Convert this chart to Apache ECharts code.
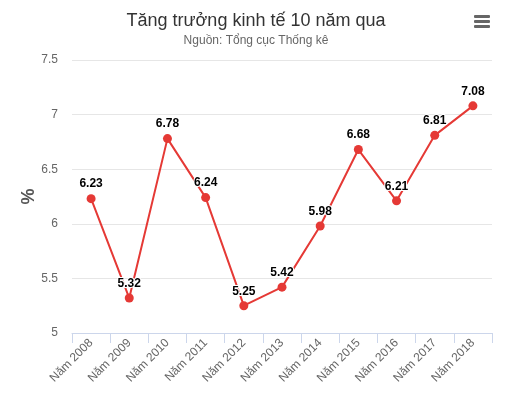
<!DOCTYPE html>
<html><head><meta charset="utf-8">
<script src="https://cdn.jsdelivr.net/npm/echarts@6/dist/echarts.min.js"></script>
<style>html,body{margin:0;padding:0;background:#fff}#c{width:512px;height:393px}</style>
</head><body><div id="c"></div>
<script>
var categories = ['Năm 2008','Năm 2009','Năm 2010','Năm 2011','Năm 2012','Năm 2013','Năm 2014','Năm 2015','Năm 2016','Năm 2017','Năm 2018'];
var growth = [6.23, 5.32, 6.78, 6.24, 5.25, 5.42, 5.98, 6.68, 6.21, 6.81, 7.08];
var titleText = 'Tăng trưởng kinh tế 10 năm qua';
var subtitleText = 'Nguồn: Tổng cục Thống kê';
var chart = echarts.init(document.getElementById('c'));
chart.setOption({
  animation: false,
  title: {
    text: titleText, subtext: subtitleText, left: 'center', top: 7, itemGap: 5,
    textStyle: {fontSize: 18, fontWeight: 'normal', color: '#333', fontFamily: 'Arial'},
    subtextStyle: {fontSize: 12, color: '#666', fontFamily: 'Arial'}
  },
  grid: {left: 72, right: 20, top: 60, bottom: 60, containLabel: false},
  xAxis: {
    type: 'category', data: categories, boundaryGap: true,
    axisLine: {lineStyle: {color: '#ccd6eb'}},
    axisTick: {show: true, length: 10, lineStyle: {color: '#ccd6eb'}, alignWithLabel: false},
    axisLabel: {rotate: 45, color: '#666', fontSize: 12, fontFamily: 'Arial', margin: 8, interval: 0}
  },
  yAxis: {
    type: 'value', min: 5, max: 7.5, interval: 0.5,
    name: '%', nameLocation: 'middle', nameGap: 34, nameRotate: 90, nameMoveOverlap: false,
    nameTextStyle: {fontSize: 18, color: '#555', fontWeight: 'bold', fontFamily: 'Arial'},
    axisLine: {show: false}, axisTick: {show: false},
    splitLine: {lineStyle: {color: '#e6e6e6'}},
    axisLabel: {color: '#666', fontSize: 12, fontFamily: 'Arial', margin: 14}
  },
  series: [{
    type: 'line', data: growth, symbol: 'circle', symbolSize: 9,
    itemStyle: {color: '#e53935'},
    lineStyle: {color: '#e53935', width: 2},
    label: {show: true, position: 'top', distance: 4, color: '#000', fontSize: 12, fontWeight: 'bold',
      fontFamily: 'Arial', textBorderColor: '#fff', textBorderWidth: 2}
  }],
  graphic: [
    {type: 'rect', left: 474, top: 15, shape: {width: 16, height: 3, r: 1}, style: {fill: '#666'}},
    {type: 'rect', left: 474, top: 20, shape: {width: 16, height: 3, r: 1}, style: {fill: '#666'}},
    {type: 'rect', left: 474, top: 25, shape: {width: 16, height: 3, r: 1}, style: {fill: '#666'}}
  ]
});
</script></body></html>
